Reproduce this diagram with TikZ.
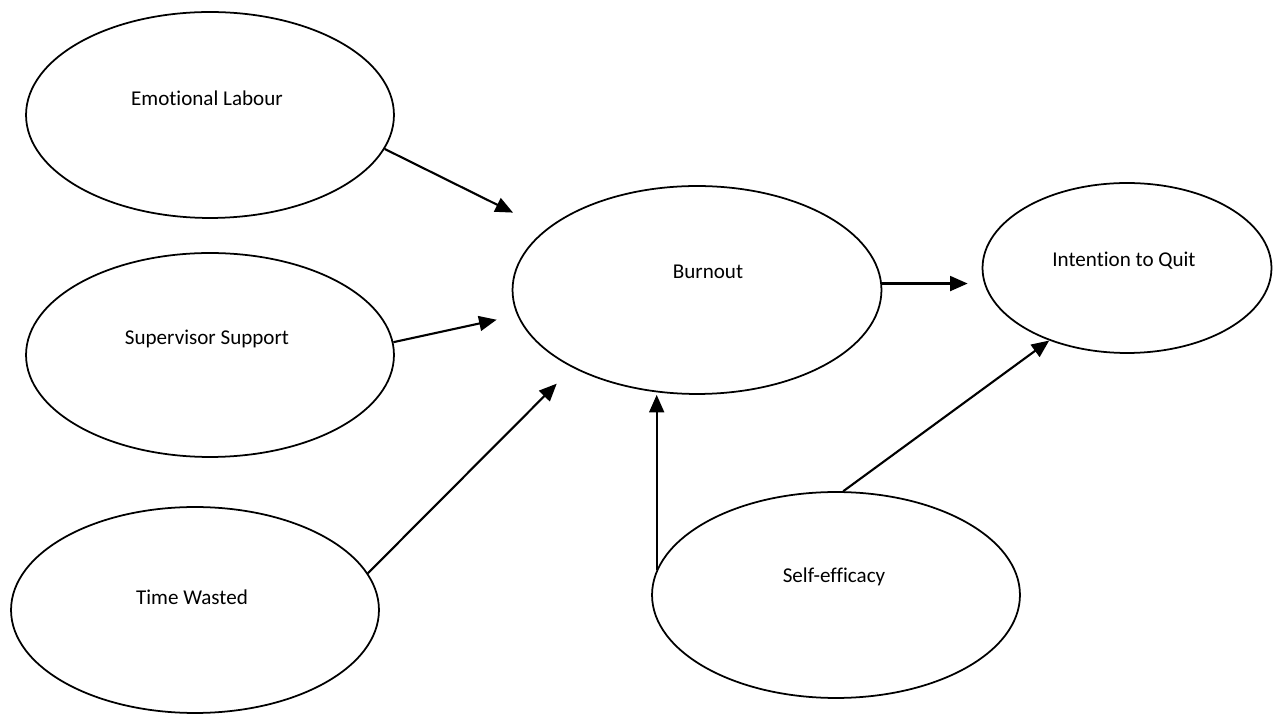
\documentclass[tikz,border=0pt]{standalone}
\usepackage{fontspec}
\setmainfont{Carlito}[Ligatures=NoCommon]
\usepackage{tikz}
\usetikzlibrary{shapes.geometric,arrows.meta}
\tikzset{
    var-ellipse/.style = {draw=black, ellipse, line width=1pt, inner sep=0pt},
    var-label/.style = {font=\fontsize{12}{14}\selectfont, inner sep=0pt},
    path-arrow/.style = {draw=black, line width=1.2pt, -{Triangle[length=10pt,width=8.5pt]}},
}

\begin{document}
\begin{tikzpicture}[x=0.02cm,y=-0.02cm]
\useasboundingbox (0,0) rectangle (1275,715);
% the six variables
\node [var-ellipse, minimum width=7.36cm, minimum height=4.12cm] (emotional) at (210,115) {};
\node [var-ellipse, minimum width=7.36cm, minimum height=4.08cm] (support) at (210,355) {};
\node [var-ellipse, minimum width=7.36cm, minimum height=4.12cm] (wasted) at (195,610) {};
\node [var-ellipse, minimum width=7.38cm, minimum height=4.16cm] (burnout) at (697,290) {};
\node [var-ellipse, minimum width=5.78cm, minimum height=3.40cm] (quit) at (1127,268) {};
\node [var-ellipse, minimum width=7.36cm, minimum height=4.12cm] (efficacy) at (836,595) {};
\node [var-label] (emotional-text) at (207,98) {Emotional Labour};
\node [var-label] (support-text) at (207,339) {Supervisor Support};
\node [var-label] (wasted-text) at (192,597) {Time Wasted};
\node [var-label] (burnout-text) at (708,272) {Burnout};
\node [var-label] (quit-text) at (1124,261) {Intention to Quit};
\node [var-label] (efficacy-text) at (834,577) {Self-efficacy};
% paths
\draw [path-arrow, shorten >=0.74cm] (emotional.-11) -- (burnout.158.4);
\draw [path-arrow, shorten >=0.42cm] (support.4) -- (burnout.-172.6);
\draw [path-arrow, shorten >=0.45cm] (wasted.12.4) -- (burnout.-148.1);
\draw [path-arrow] (efficacy.172.8) -- (efficacy.172.8 |- burnout.south);
\draw [path-arrow, shorten >=0.28cm] (burnout.2) -- (burnout.2 -| quit.west);
\draw [path-arrow] (efficacy.86) -- (quit.-137.2);
\end{tikzpicture}
\end{document}
